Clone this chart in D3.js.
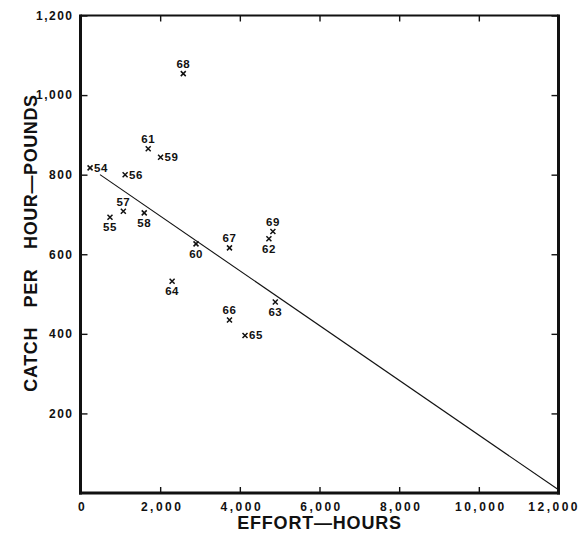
<!DOCTYPE html>
<html>
<head>
<meta charset="utf-8">
<script src="https://cdn.jsdelivr.net/npm/d3@7"></script>
<style>
    body { margin: 0; background: #fff; }
    text { font-family: "Liberation Sans", Arial, sans-serif; font-weight: bold; fill: #111; }
</style>
</head>
<body>
<div class="chart"></div>
<script>
// season labels and readings
var years = ["54","55","56","57","58","59","60","61","62","63","64","65","66","67","68","69"];
var effort = [240, 740, 1120, 1075, 1600, 2010, 2900, 1700, 4730, 4890, 2300, 4130, 3740, 3740, 2580, 4830];
var catchRate = [817, 693, 800, 708, 704, 844, 626, 865, 639, 480, 532, 396, 435, 616, 1054, 657];
// where each year label sits next to its mark
var labelSide = ["right","below","right","above","below","right","below","above","below","below","below","right","above","above","above","above"];

// fitted line end points
var lineEffort = [490, 12000];
var lineCatch = [800, 8];

var xTicks = [0, 2000, 4000, 6000, 8000, 10000, 12000];
var yTicks = [200, 400, 600, 800, 1000, 1200];

var margin = {top: 15.5, right: 21.5, bottom: 48, left: 80.5},
    width = 580 - margin.left - margin.right,
    height = 541 - margin.top - margin.bottom;

var svg = d3.select(".chart").append("svg")
    .attr("width", 580)
    .attr("height", 541);
var g = svg.append("g")
    .attr("transform", "translate(" + margin.left + "," + margin.top + ")");

var x = d3.scaleLinear().domain([0, 12000]).range([0, width]);
var y = d3.scaleLinear().domain([0, 1200]).range([height, 0]);

var fmt = d3.format(",");

// axes, ticks pointing inward on all four sides
function styleAxis(sel) {
    sel.select(".domain").remove();
    sel.selectAll(".tick line").attr("stroke", "#111").attr("stroke-width", 1.4);
}
var xAx = g.append("g")
    .attr("transform", "translate(0," + height + ")")
    .call(d3.axisBottom(x).tickValues(xTicks).tickSize(-6).tickPadding(9).tickFormat(fmt))
    .call(styleAxis);
xAx.selectAll("text")
    .attr("font-size", 12)
    .attr("letter-spacing", 2.5)
    .attr("dx", 1.5);
// last label would run off the page, pull it in
xAx.selectAll(".tick:last-of-type text")
    .attr("text-anchor", "end")
    .attr("dx", 21);
g.append("g")
    .call(d3.axisTop(x).tickValues(xTicks).tickSize(-6).tickFormat(""))
    .call(styleAxis);
g.append("g")
    .call(d3.axisLeft(y).tickValues(yTicks).tickSize(-7).tickPadding(7).tickFormat(fmt))
    .call(styleAxis)
    .selectAll("text").attr("font-size", 12).attr("letter-spacing", 1.5);
g.append("g")
    .attr("transform", "translate(" + width + ",0)")
    .call(d3.axisRight(y).tickValues(yTicks).tickSize(-7).tickFormat(""))
    .call(styleAxis);

// frame
g.append("line").attr("x1", 0).attr("x2", width).attr("y1", 0).attr("y2", 0)
    .attr("stroke", "#111").attr("stroke-width", 2);
g.append("line").attr("x1", 0).attr("x2", 0).attr("y1", -1).attr("y2", height + 1.5)
    .attr("stroke", "#111").attr("stroke-width", 3);
g.append("line").attr("x1", width).attr("x2", width).attr("y1", -1).attr("y2", height + 1.5)
    .attr("stroke", "#111").attr("stroke-width", 3);
g.append("line").attr("x1", -1.5).attr("x2", width + 1.5).attr("y1", height).attr("y2", height)
    .attr("stroke", "#111").attr("stroke-width", 3);

// fitted line
var linePts = lineEffort.map(function(d, i) { return [d, lineCatch[i]]; });
g.append("path")
    .datum(linePts)
    .attr("fill", "none")
    .attr("stroke", "#111")
    .attr("stroke-width", 1.1)
    .attr("d", d3.line().x(function(d) { return x(d[0]); }).y(function(d) { return y(d[1]); }));

// points drawn as little x marks
var pts = years.map(function(d, i) {
    return {year: d, effort: effort[i], value: catchRate[i], side: labelSide[i]};
});
var pt = g.selectAll(".pt").data(pts).enter().append("g")
    .attr("class", "pt")
    .attr("transform", function(d) { return "translate(" + x(d.effort) + "," + y(d.value) + ")"; });
pt.append("path")
    .attr("d", "M-2.5,-2.5L2.5,2.5M-2.5,2.5L2.5,-2.5")
    .attr("stroke", "#111")
    .attr("stroke-width", 1.5);
pt.append("text")
    .attr("font-size", 11.5)
    .attr("letter-spacing", 0.5)
    .attr("dominant-baseline", "central")
    .attr("text-anchor", function(d) { return d.side == "right" ? "start" : "middle"; })
    .attr("x", function(d) { return d.side == "right" ? 4 : 0; })
    .attr("y", function(d) { return d.side == "above" ? -9.5 : d.side == "below" ? 10 : 0; })
    .text(function(d) { return d.year; });

// axis titles
svg.append("text")
    .attr("x", margin.left + width / 2)
    .attr("y", 529)
    .attr("text-anchor", "middle")
    .attr("font-size", 18)
    .attr("letter-spacing", 0.8)
    .text("EFFORT\u2014HOURS");
svg.append("text")
    .attr("transform", "translate(37,243) rotate(-90)")
    .attr("text-anchor", "middle")
    .attr("font-size", 18)
    .attr("letter-spacing", 0.6)
    .attr("word-spacing", 14)
    .text("CATCH PER HOUR\u2014POUNDS");
</script>
</body>
</html>
